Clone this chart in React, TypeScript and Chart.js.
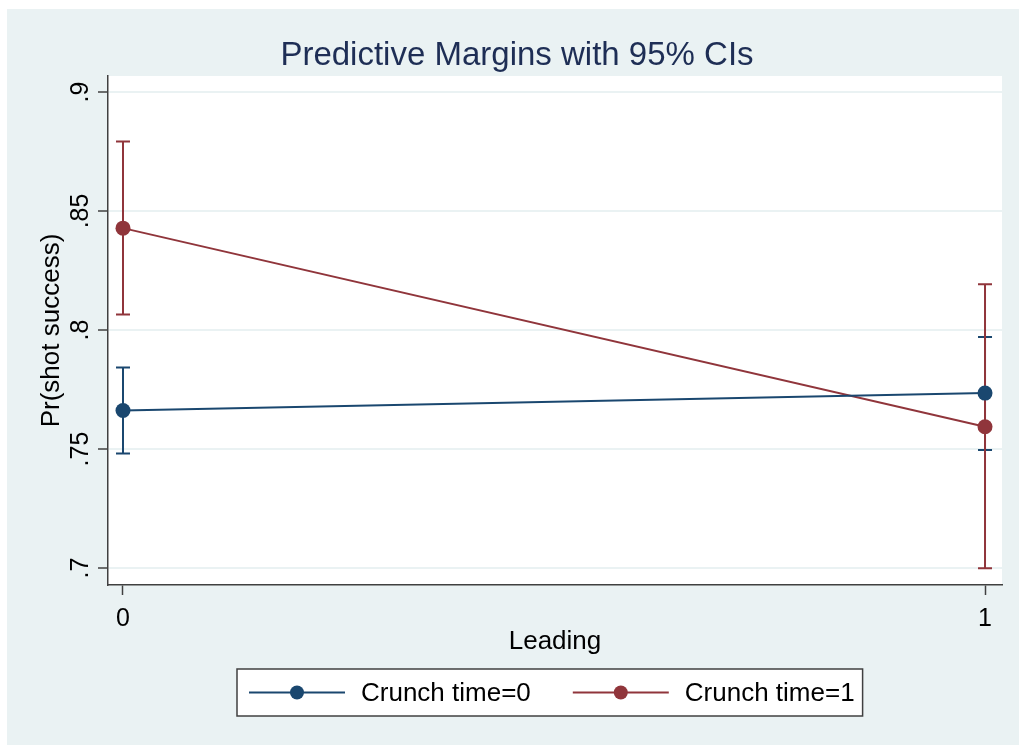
import React, { useEffect, useRef } from "react";
import { Chart, registerables } from "chart.js";

Chart.register(...registerables);

// ---- data ----
const leading = [0, 1];
const crunch0 = [0.7662, 0.7735];
const crunch0Low = [0.7481, 0.7496];
const crunch0High = [0.7843, 0.7971];
const crunch1 = [0.8428, 0.7594];
const crunch1Low = [0.8065, 0.6999];
const crunch1High = [0.8792, 0.8192];
const seriesLabels = ["Crunch time=0", "Crunch time=1"];
const yTicks = [0.7, 0.75, 0.8, 0.85, 0.9];
const xTicks = [0, 1];

// ---- style ----
const NAVY = "#1a476f";
const MAROON = "#90353b";
const BG = "#eaf2f3";
const AXIS = "#404040";
const FONT = "'Liberation Sans', Arial, sans-serif";

const bgPlugin = {
  id: "stataBg",
  beforeDraw(chart: any) {
    const { ctx, width, height, chartArea } = chart;
    ctx.save();
    ctx.fillStyle = "#ffffff";
    ctx.fillRect(0, 0, width, height);
    ctx.fillStyle = BG;
    ctx.fillRect(7, 9, width - 7, height - 9);
    ctx.fillStyle = "#ffffff";
    ctx.fillRect(chartArea.left, chartArea.top, chartArea.right - chartArea.left, chartArea.bottom - chartArea.top);
    ctx.restore();
  },
};

const ciPlugin = {
  id: "ciBars",
  beforeDatasetsDraw(chart: any) {
    const { ctx } = chart;
    const xs = chart.scales.x;
    const ys = chart.scales.y;
    ctx.save();
    ctx.lineWidth = 2;
    chart.data.datasets.forEach((ds: any) => {
      ctx.strokeStyle = ds.borderColor;
      ds.data.forEach((pt: any, i: number) => {
        const px = xs.getPixelForValue(pt.x);
        const p1 = ys.getPixelForValue(ds.ciLow[i]);
        const p2 = ys.getPixelForValue(ds.ciHigh[i]);
        ctx.beginPath();
        ctx.moveTo(px, p1);
        ctx.lineTo(px, p2);
        ctx.moveTo(px - 7, p1);
        ctx.lineTo(px + 7, p1);
        ctx.moveTo(px - 7, p2);
        ctx.lineTo(px + 7, p2);
        ctx.stroke();
      });
    });
    ctx.restore();
  },
};

const legendPlugin = {
  id: "stataLegend",
  afterDraw(chart: any) {
    const { ctx } = chart;
    ctx.save();
    ctx.font = `26px ${FONT}`;
    const dss = chart.data.datasets;
    const padL = 12, lineW = 96, gap1 = 16, gap2 = 42, padR = 8;
    const tw = dss.map((d: any) => ctx.measureText(d.label).width);
    let total = padL + padR;
    tw.forEach((w: number, i: number) => {
      total += lineW + gap1 + w + (i > 0 ? gap2 : 0);
    });
    const cx = 550;
    const top = 669, h = 47;
    const left = Math.round(cx - total / 2);
    ctx.fillStyle = "#ffffff";
    ctx.fillRect(left, top, total, h);
    ctx.strokeStyle = AXIS;
    ctx.lineWidth = 1.5;
    ctx.strokeRect(left, top, total, h);
    const my = top + h / 2;
    let x = left + padL;
    dss.forEach((d: any, i: number) => {
      if (i > 0) x += gap2;
      ctx.strokeStyle = d.borderColor;
      ctx.lineWidth = 2;
      ctx.beginPath();
      ctx.moveTo(x, my);
      ctx.lineTo(x + lineW, my);
      ctx.stroke();
      ctx.fillStyle = d.borderColor;
      ctx.beginPath();
      ctx.arc(x + lineW / 2, my, 7, 0, Math.PI * 2);
      ctx.fill();
      x += lineW + gap1;
      ctx.fillStyle = "#000000";
      ctx.textBaseline = "middle";
      ctx.textAlign = "left";
      ctx.fillText(d.label, x, my + 1);
      x += tw[i];
    });
    ctx.restore();
  },
};

export default function App() {
  const ref = useRef<HTMLCanvasElement | null>(null);

  useEffect(() => {
    if (!ref.current) return;
    const chart = new Chart(ref.current, {
      type: "line",
      data: {
        datasets: [
          {
            label: seriesLabels[0],
            data: leading.map((x, i) => ({ x, y: crunch0[i] })),
            ciLow: crunch0Low,
            ciHigh: crunch0High,
            borderColor: NAVY,
            backgroundColor: NAVY,
            borderWidth: 2,
            pointRadius: 7.5,
            pointBorderWidth: 0,
            pointBackgroundColor: NAVY,
            tension: 0,
          } as any,
          {
            label: seriesLabels[1],
            data: leading.map((x, i) => ({ x, y: crunch1[i] })),
            ciLow: crunch1Low,
            ciHigh: crunch1High,
            borderColor: MAROON,
            backgroundColor: MAROON,
            borderWidth: 2,
            pointRadius: 7.5,
            pointBorderWidth: 0,
            pointBackgroundColor: MAROON,
            tension: 0,
          } as any,
        ],
      },
      options: {
        responsive: false,
        animation: false,
        layout: { padding: { left: 32, right: 17, top: 33, bottom: 88 } },
        plugins: {
          legend: { display: false },
          tooltip: { enabled: false },
          title: {
            display: true,
            text: "Predictive Margins with 95% CIs",
            color: "#1e2e55",
            font: { family: FONT, size: 33, weight: "normal" as any },
            padding: { top: 3.4, bottom: 0 },
          },
        },
        scales: {
          x: {
            type: "linear",
            min: -0.0174,
            max: 1.0197,
            afterFit: (s: any) => {
              s.height = 72;
            },
            afterBuildTicks: (s: any) => {
              s.ticks = xTicks.map((v) => ({ value: v }));
            },
            ticks: {
              color: "#000",
              font: { family: FONT, size: 25 },
              padding: 9,
              maxRotation: 0,
              callback: (v: any) => String(v),
            },
            grid: {
              drawOnChartArea: false,
              drawTicks: true,
              tickLength: 10,
              tickColor: AXIS,
              tickWidth: 1.5,
            },
            border: { display: true, color: AXIS, width: 1.5 },
            title: {
              display: true,
              text: "Leading",
              color: "#000",
              font: { family: FONT, size: 26 },
              padding: { top: 0, bottom: 0 },
            },
          },
          y: {
            type: "linear",
            min: 0.6929,
            max: 0.9067,
            afterFit: (s: any) => {
              s.width = 76;
            },
            afterBuildTicks: (s: any) => {
              s.ticks = yTicks.map((v) => ({ value: v }));
            },
            ticks: {
              color: "#000",
              font: { family: FONT, size: 25 },
              padding: 0,
              minRotation: 90,
              maxRotation: 90,
              crossAlign: "center",
              callback: (v: any) => String(v).replace(/^0/, ""),
            },
            grid: {
              color: BG,
              lineWidth: 2,
              drawTicks: true,
              tickLength: 10,
              tickColor: AXIS,
              tickWidth: 1.5,
            },
            border: { display: true, color: AXIS, width: 1.5 },
            title: {
              display: true,
              text: "Pr(shot success)",
              color: "#000",
              font: { family: FONT, size: 26 },
              padding: { top: 4, bottom: 0 },
            },
          },
        },
      },
      plugins: [bgPlugin, ciPlugin, legendPlugin],
    });
    return () => chart.destroy();
  }, []);

  return (
    <div style={{ position: "fixed", left: 0, top: 0, width: 1019, height: 745 }}>
      <canvas ref={ref} width={1019} height={745} style={{ display: "block" }} />
    </div>
  );
}
